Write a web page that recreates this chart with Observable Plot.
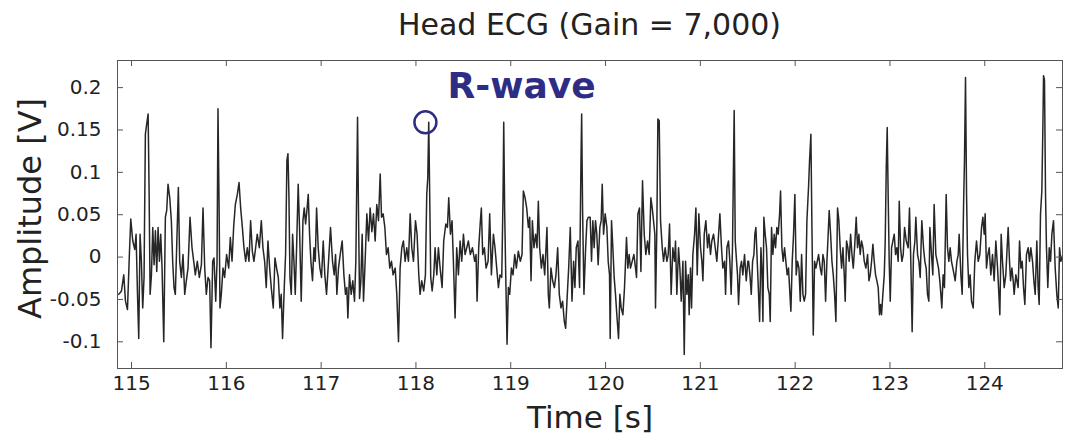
<!DOCTYPE html>
<html><head><meta charset="utf-8">
<script src="https://cdn.jsdelivr.net/npm/d3@7"></script>
<script src="https://cdn.jsdelivr.net/npm/@observablehq/plot@0.6"></script>
<style>
body{margin:0;background:#fff;}
#wrap{width:1068px;}
#title{height:45px;position:relative;font-family:"DejaVu Sans";font-size:30px;color:#222;}
#title span{position:absolute;left:117px;width:945px;text-align:center;top:10px;line-height:1;white-space:nowrap;}
</style></head><body><div id="wrap"><div id="title"><span>Head ECG (Gain = 7,000)</span></div><div id="chart"></div></div>
<script>
const times = [
114.865,114.894,114.918,114.936,114.957,114.978,114.992,115.013,115.034,115.048,115.062,115.076,115.090,115.104,115.118,115.132,115.146,115.160,115.175,115.185,115.196,115.210,115.224,115.238,115.252,115.266,115.280,115.294,115.308,115.322,115.340,115.357,115.371,115.385,115.403,115.420,115.434,115.448,115.462,115.476,115.494,115.508,115.526,115.543,115.561,115.578,115.596,115.617,115.638,115.656,115.673,115.694,115.715,115.737,115.754,115.772,115.789,115.807,115.824,115.838,115.856,115.870,115.888,115.902,115.912,115.923,115.933,115.947,115.965,115.982,116.003,116.025,116.042,116.060,116.077,116.095,116.116,116.134,116.151,116.169,116.186,116.204,116.221,116.239,116.256,116.274,116.291,116.309,116.326,116.348,116.369,116.386,116.404,116.421,116.439,116.457,116.474,116.495,
116.513,116.530,116.548,116.565,116.579,116.593,116.611,116.625,116.639,116.650,116.660,116.671,116.685,116.699,116.713,116.727,116.741,116.758,116.772,116.790,116.808,116.822,116.836,116.850,116.864,116.878,116.892,116.909,116.924,116.938,116.952,116.969,116.987,117.004,117.022,117.039,117.057,117.078,117.099,117.120,117.138,117.152,117.166,117.183,117.201,117.222,117.240,117.257,117.271,117.282,117.299,117.317,117.334,117.352,117.366,117.384,117.394,117.405,117.419,117.433,117.447,117.464,117.482,117.500,117.517,117.535,117.552,117.570,117.587,117.605,117.623,117.637,117.654,117.672,117.689,117.707,117.724,117.742,117.759,117.781,117.798,117.816,117.833,117.851,117.868,117.886,117.903,117.921,117.939,117.956,117.974,117.995,118.012,118.030,118.044,118.061,118.082,118.100,118.114,118.125,118.135,118.146,118.156,
118.171,118.188,118.202,118.220,118.237,118.255,118.276,118.293,118.315,118.332,118.346,118.364,118.381,118.395,118.413,118.430,118.448,118.466,118.483,118.501,118.518,118.536,118.553,118.574,118.596,118.620,118.634,118.645,118.662,118.680,118.690,118.704,118.722,118.740,118.761,118.778,118.796,118.817,118.834,118.852,118.870,118.887,118.905,118.919,118.926,118.936,118.947,118.961,118.975,118.989,119.007,119.024,119.042,119.059,119.080,119.101,119.119,119.133,119.151,119.168,119.186,119.200,119.214,119.228,119.245,119.263,119.277,119.291,119.305,119.323,119.340,119.358,119.372,119.382,119.396,119.407,119.424,119.442,119.460,119.477,119.495,119.512,119.530,119.547,119.565,119.579,119.593,119.611,119.628,119.646,119.663,119.677,119.691,119.709,119.726,119.741,119.748,119.758,119.772,119.790,119.804,119.818,
119.838,119.852,119.866,119.880,119.894,119.908,119.922,119.940,119.954,119.965,119.979,119.996,120.014,120.028,120.042,120.049,120.063,120.077,120.091,120.105,120.119,120.137,120.151,120.165,120.183,120.200,120.221,120.235,120.249,120.263,120.281,120.299,120.316,120.327,120.341,120.358,120.373,120.390,120.408,120.425,120.443,120.460,120.478,120.492,120.506,120.520,120.527,120.541,120.552,120.566,120.580,120.598,120.612,120.629,120.647,120.661,120.675,120.692,120.710,120.728,120.738,120.752,120.770,120.784,120.798,120.816,120.830,120.844,120.858,120.872,120.882,120.896,120.907,120.921,120.939,120.953,120.967,120.984,121.002,121.016,121.027,121.041,121.058,121.076,121.090,121.107,121.121,121.139,121.157,121.174,121.188,121.206,121.223,121.237,121.255,121.266,121.280,121.297,121.311,121.325,121.339,121.350,121.357,121.368,121.382,121.392,121.403,121.420,121.434,121.448,121.466,121.484,121.501,
121.509,121.523,121.537,121.551,121.565,121.575,121.586,121.600,121.614,121.625,121.639,121.649,121.660,121.670,121.684,121.698,121.712,121.727,121.737,121.751,121.765,121.779,121.793,121.807,121.821,121.836,121.846,121.860,121.874,121.888,121.902,121.916,121.930,121.945,121.955,121.969,121.983,121.997,122.011,122.025,122.040,122.054,122.068,122.082,122.096,122.110,122.124,122.141,122.152,122.166,122.177,122.191,122.205,122.219,122.233,122.247,122.265,122.279,122.293,122.307,122.321,122.335,122.345,122.359,122.374,122.388,122.402,122.416,122.430,122.447,122.461,122.475,122.490,122.504,122.518,122.528,122.542,122.556,122.570,122.585,122.599,122.613,122.627,122.644,122.658,122.672,122.686,122.700,122.715,122.729,122.746,122.764,122.778,122.792,122.806,122.820,122.834,122.848,122.862,122.876,122.890,122.901,122.911,122.925,122.940,122.950,122.961,122.971,122.982,122.992,123.003,123.017,123.031,123.045,123.059,123.073,123.087,123.098,123.112,123.126,123.140,123.154,123.172,
123.192,123.206,123.220,123.234,123.248,123.263,123.273,123.291,123.305,123.319,123.336,123.354,123.368,123.382,123.396,123.410,123.421,123.438,123.452,123.466,123.484,123.498,123.512,123.526,123.537,123.547,123.561,123.575,123.593,123.607,123.621,123.635,123.649,123.663,123.677,123.688,123.706,123.720,123.730,123.748,123.762,123.776,123.786,123.797,123.808,123.818,123.832,123.846,123.860,123.878,123.895,123.913,123.931,123.948,123.966,123.980,123.994,124.004,124.018,124.033,124.047,124.064,124.082,124.099,124.117,124.135,124.149,124.159,124.173,124.187,124.205,124.222,124.236,124.247,124.261,124.272,124.286,124.300,124.310,124.328,124.352,124.367,124.381,124.395,124.409,124.423,124.440,124.458,124.472,124.486,124.504,124.518,124.532,124.549,124.563,124.574,124.588,124.602,124.613,124.620,124.630,124.641,124.651,124.665,124.680,124.694,124.708,124.725,124.743,124.760,124.775,124.789,124.803,124.824
];
const amps = [
-0.044,-0.040,-0.021,-0.052,-0.062,0.005,0.045,0.019,0.009,0.027,-0.040,-0.096,0.027,-0.005,-0.060,-0.024,0.145,0.157,0.169,0.082,-0.044,-0.021,0.035,-0.009,0.031,-0.017,0.035,-0.005,0.027,-0.013,-0.100,0.047,0.055,0.086,0.070,0.043,-0.005,-0.036,-0.044,0.011,0.082,-0.005,-0.024,0.003,-0.044,-0.028,-0.013,0.047,0.011,-0.005,-0.021,-0.005,-0.024,-0.009,0.058,-0.013,-0.044,-0.024,-0.028,-0.107,-0.005,-0.001,-0.052,-0.005,0.175,0.066,-0.060,-0.044,-0.013,-0.024,0.003,-0.013,0.023,-0.005,0.035,0.062,0.074,0.088,0.058,0.035,0.011,-0.005,0.011,-0.005,0.043,0.007,-0.005,0.011,0.027,0.011,0.043,0.011,-0.005,-0.036,0.019,-0.013,-0.036,-0.060,
-0.001,-0.013,-0.024,-0.060,-0.044,-0.096,-0.036,0.003,0.114,0.122,0.074,-0.024,-0.044,0.027,-0.005,-0.044,0.011,0.086,0.035,-0.052,0.043,0.058,0.039,0.055,0.074,0.027,-0.005,-0.028,0.011,-0.005,0.058,0.011,-0.013,-0.024,0.019,-0.021,-0.044,-0.005,0.035,-0.005,-0.021,0.003,-0.044,-0.013,0.003,0.019,-0.021,-0.044,-0.036,-0.072,-0.021,-0.044,-0.028,-0.052,-0.005,0.165,0.054,-0.049,-0.028,0.027,-0.052,-0.005,0.051,0.019,0.058,0.030,0.051,0.019,0.062,0.043,0.098,0.047,0.051,0.035,0.003,0.011,-0.013,-0.005,-0.021,-0.013,-0.044,-0.100,-0.013,0.011,0.019,-0.005,0.011,-0.005,0.051,0.011,-0.005,0.043,0.027,-0.021,-0.044,-0.028,-0.040,-0.021,0.074,0.094,0.159,0.066,-0.024,
-0.040,-0.021,0.011,-0.021,0.011,-0.013,-0.036,0.019,0.039,0.035,0.070,0.027,0.043,-0.005,-0.072,0.011,-0.021,0.019,-0.005,0.027,0.003,0.011,0.019,0.003,0.011,-0.005,0.003,-0.052,0.011,0.043,0.058,0.003,0.011,-0.013,-0.005,0.051,-0.021,0.027,0.011,-0.013,-0.036,-0.021,-0.024,0.074,0.159,0.054,-0.021,-0.103,-0.036,-0.044,-0.013,-0.021,0.003,-0.013,0.007,-0.005,0.003,0.078,0.070,0.058,0.035,0.047,-0.028,0.043,0.011,0.027,0.011,0.066,0.011,-0.013,0.003,-0.021,0.011,0.035,-0.044,-0.060,-0.013,-0.028,-0.036,-0.021,0.011,-0.044,-0.060,-0.052,-0.076,-0.084,-0.052,-0.013,0.035,-0.052,-0.005,-0.036,0.011,0.019,-0.036,0.114,0.169,0.054,-0.044,0.011,0.043,0.047,
0.047,-0.005,0.043,0.011,0.043,0.027,-0.009,0.035,0.043,0.086,0.027,0.051,0.035,-0.005,-0.021,-0.096,0.043,0.011,-0.024,-0.044,-0.068,-0.096,-0.044,-0.060,-0.068,-0.036,0.023,-0.013,0.003,-0.013,-0.005,0.003,-0.013,-0.024,0.051,0.058,-0.017,0.090,0.027,0.003,0.019,0.003,0.070,0.058,0.043,0.027,-0.060,0.035,0.163,0.161,0.043,0.011,-0.005,0.011,-0.005,0.003,0.039,-0.044,0.011,-0.005,0.019,-0.044,0.011,-0.013,-0.052,-0.005,-0.115,-0.005,-0.044,-0.021,-0.068,-0.013,-0.060,0.003,0.027,0.058,-0.021,0.051,0.011,-0.005,-0.028,0.027,0.043,0.011,0.027,0.003,0.019,0.027,0.011,-0.005,0.019,0.051,0.011,-0.013,-0.005,-0.044,0.011,0.019,-0.005,-0.044,0.011,0.114,0.173,0.019,-0.005,-0.021,-0.056,-0.013,-0.005,-0.021,0.003,-0.028,-0.005,
-0.005,-0.021,-0.044,-0.005,0.003,0.027,0.035,-0.005,-0.044,-0.076,0.011,-0.013,-0.076,0.047,0.027,0.011,-0.036,-0.044,-0.076,0.035,0.003,0.027,0.011,0.035,0.027,0.051,0.078,0.011,-0.005,0.011,-0.005,-0.021,-0.013,-0.044,-0.064,-0.005,0.027,0.074,-0.021,-0.005,-0.013,-0.052,0.003,-0.044,-0.052,-0.044,0.043,0.082,0.114,0.145,0.035,-0.092,-0.005,-0.013,-0.005,0.003,-0.013,-0.021,0.003,-0.005,-0.052,-0.005,0.019,0.055,0.027,-0.005,-0.021,-0.044,-0.076,0.058,0.043,0.011,-0.013,0.011,-0.021,-0.052,0.019,0.011,-0.005,0.027,0.003,-0.013,0.011,0.047,0.011,0.027,0.003,0.019,0.011,-0.005,-0.013,0.003,-0.028,-0.021,-0.005,0.015,-0.005,-0.021,-0.028,-0.036,-0.068,-0.056,-0.068,-0.044,-0.021,0.019,0.106,0.153,0.066,-0.005,-0.052,0.011,0.019,0.027,0.003,0.011,-0.005,0.066,0.011,-0.005,0.003,0.035,0.019,
0.011,0.058,-0.005,-0.088,0.003,0.019,0.047,0.003,-0.005,-0.024,0.043,0.011,-0.005,-0.013,-0.044,-0.052,0.035,0.003,-0.021,0.062,0.003,-0.005,-0.013,-0.028,-0.044,-0.060,-0.021,-0.036,0.074,0.011,-0.005,0.011,-0.005,-0.013,-0.021,-0.028,-0.005,0.003,0.027,-0.021,-0.044,0.058,0.114,0.212,0.074,0.003,-0.036,-0.021,-0.052,-0.060,-0.005,0.019,-0.005,0.003,0.035,0.047,0.027,0.051,-0.013,0.003,0.011,-0.021,0.003,-0.028,0.019,-0.013,-0.044,-0.068,0.027,-0.005,-0.036,-0.021,0.011,0.035,-0.005,-0.028,-0.013,-0.028,-0.044,-0.021,-0.036,0.019,-0.013,-0.005,-0.036,-0.056,0.003,0.011,-0.005,0.011,-0.005,-0.028,-0.044,0.019,-0.036,-0.056,0.051,0.078,0.153,0.214,0.209,0.074,0.011,-0.036,0.011,-0.005,0.027,0.043,-0.013,-0.044,-0.060,0.011,-0.005,0.003
];
const xTicks = [115,116,117,118,119,120,121,122,123,124];
const yTicks = [-0.1,-0.05,0,0.05,0.1,0.15,0.2];
const xDomain = [114.852, 124.82];
const yDomain = [-0.1315, 0.232];
const rwaveMarker = [{time:118.10, amp:0.159}];
const rwaveLabel = [{time:118.333, amp:0.2014, text:"R-wave"}];
const axisTitles = {x:"Time [s]", y:"Amplitude [V]"};

const ecg = times.map((t,i)=>({t, v:amps[i]}));
const navy = "#2d2d86";
const W = 1068, H = 397, ML = 117, MR = 6, MT = 15, MB = 74, TICK = 6;
const frameW = W - ML - MR, frameH = H - MT - MB;
const plot = Plot.plot({
  width:W, height:H,
  marginLeft:ML, marginRight:MR, marginTop:MT, marginBottom:MB,
  style:{fontFamily:"DejaVu Sans", background:"#fff", color:"#222", overflow:"visible"},
  x:{domain:xDomain},
  y:{domain:yDomain},
  marks:[
    Plot.line(ecg,{x:"t",y:"v",stroke:"#262626",strokeWidth:1.5,clip:true}),
    Plot.frame({stroke:"#555",strokeWidth:1}),
    Plot.ruleX(xTicks,{x:d=>d,insetTop:frameH-TICK,stroke:"#555"}),
    Plot.ruleX(xTicks,{x:d=>d,insetBottom:frameH-TICK,stroke:"#555"}),
    Plot.ruleY(yTicks,{y:d=>d,insetRight:frameW-TICK,stroke:"#555"}),
    Plot.ruleY(yTicks,{y:d=>d,insetLeft:frameW-TICK,stroke:"#555"}),
    Plot.axisX(xTicks,{anchor:"bottom",tickSize:0,tickPadding:7,fontSize:20,label:null,tickFormat:d=>String(d),fill:"#222"}),
    Plot.axisY(yTicks,{anchor:"left",tickSize:0,tickPadding:16,fontSize:20,label:null,tickFormat:d=>String(d),fill:"#222"}),
    Plot.text([axisTitles.x],{frameAnchor:"bottom",dy:50,textAnchor:"middle",lineAnchor:"middle",fontSize:31,text:d=>d,fill:"#222"}),
    Plot.text([axisTitles.y],{frameAnchor:"left",dx:-87,dy:-6,rotate:-90,textAnchor:"middle",lineAnchor:"middle",fontSize:32,text:d=>d,fill:"#222"}),
    Plot.dot(rwaveMarker,{x:"time",y:"amp",r:11,stroke:navy,strokeWidth:2.5,fill:"none"}),
    Plot.text(rwaveLabel,{x:"time",y:"amp",text:"text",textAnchor:"start",lineAnchor:"middle",fontSize:36,fontWeight:"bold",fill:navy})
  ]
});
document.getElementById("chart").appendChild(plot);
</script></body></html>
